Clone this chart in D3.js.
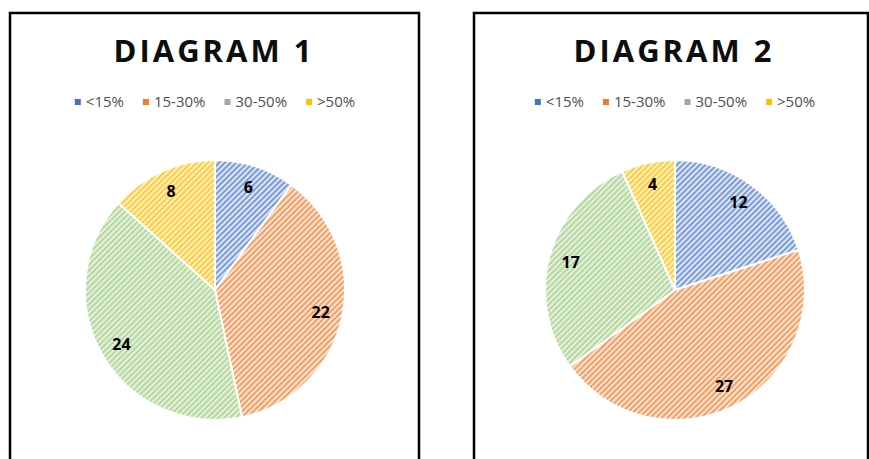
<!DOCTYPE html>
<html>
<head>
<meta charset="utf-8">
<script src="https://cdn.jsdelivr.net/npm/d3@7"></script>
<style>
  body { margin: 0; background: #fff; }
  svg { display: block; }
</style>
</head>
<body>
<svg id="chart" width="869" height="459"></svg>
<script>
// data
var categories = ["<15%", "15-30%", "30-50%", ">50%"];
var titles = ["DIAGRAM 1", "DIAGRAM 2"];
var values1 = [6, 22, 24, 8];
var values2 = [12, 27, 17, 4];

var stripeColors = ["#7c9cd6", "#f3a067", "#b5d89f", "#ffcd3c"];
var baseColors = ["#dce6f6", "#fce2cf", "#e4f1dc", "#fff0c4"];
var legendColors = ["#4472c4", "#ed7d31", "#a5a5a5", "#ffc000"];

var svg = d3.select("#chart");

// hatch patterns
var defs = svg.append("defs");
categories.forEach(function(c, i) {
    var p = defs.append("pattern")
        .attr("id", "hatch" + i)
        .attr("patternUnits", "userSpaceOnUse")
        .attr("width", 4)
        .attr("height", 4)
        .attr("patternTransform", "rotate(45)");
    p.append("rect").attr("width", 4).attr("height", 4).attr("fill", baseColors[i]);
    p.append("rect").attr("width", 2).attr("height", 4).attr("fill", stripeColors[i]);
});

var panels = [
    {x0: 10, x1: 419, cx: 215, title: titles[0], values: values1},
    {x0: 474, x1: 868, cx: 675, title: titles[1], values: values2}
];

var pie = d3.pie().sort(null).value(d => d);
var radius = 130;
var arc = d3.arc().innerRadius(0).outerRadius(radius);
var labelArc = d3.arc().innerRadius(108).outerRadius(108);

panels.forEach(function(p) {
    var g = svg.append("g");

    // frame (bottom runs off the picture)
    g.append("path")
        .attr("d", `M${p.x0},470 V13 H${p.x1} V470`)
        .attr("fill", "none")
        .attr("stroke", "#000")
        .attr("stroke-width", 2.5);

    g.append("text")
        .attr("x", p.cx - 1)
        .attr("y", 62)
        .attr("text-anchor", "middle")
        .attr("font-family", "'Open Sans', sans-serif")
        .attr("font-weight", "bold")
        .attr("font-size", 31)
        .attr("letter-spacing", 3)
        .attr("fill", "#0d0d0d")
        .text(p.title);

    // legend
    var legend = g.append("g").attr("font-family", "'Open Sans', sans-serif").attr("font-size", 15).attr("fill", "#505050");
    var widths = [];
    var gap = 19;
    var tmp = legend.append("text");
    categories.forEach(function(c) {
        tmp.text(c);
        widths.push(tmp.node().getComputedTextLength() + 11);
    });
    tmp.remove();
    var total = d3.sum(widths) + gap * (categories.length - 1);
    var lx = p.cx - total / 2;
    categories.forEach(function(c, i) {
        legend.append("rect")
            .attr("x", lx)
            .attr("y", 99)
            .attr("width", 6)
            .attr("height", 6)
            .attr("fill", legendColors[i]);
        legend.append("text")
            .attr("x", lx + 11)
            .attr("y", 107)
            .text(c);
        lx += widths[i] + gap;
    });

    // pie
    var pg = g.append("g").attr("transform", `translate(${p.cx},290)`);
    var arcs = pie(p.values);
    pg.selectAll("path.slice")
        .data(arcs)
        .enter().append("path")
        .attr("class", "slice")
        .attr("d", arc)
        .attr("fill", (d, i) => `url(#hatch${i})`)
        .attr("stroke", "#fff")
        .attr("stroke-width", 2);

    pg.selectAll("text.lbl")
        .data(arcs)
        .enter().append("text")
        .attr("class", "lbl")
        .attr("transform", d => `translate(${labelArc.centroid(d)})`)
        .attr("text-anchor", "middle")
        .attr("dy", "0.35em")
        .attr("font-family", "'Open Sans', sans-serif")
        .attr("font-weight", "bold")
        .attr("font-size", 16)
        .attr("fill", "#000")
        .text(d => d.data);
});
</script>
</body>
</html>
